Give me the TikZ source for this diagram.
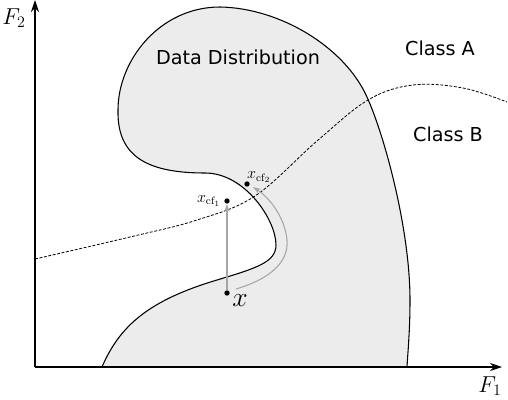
\documentclass[tikz,border=0pt]{standalone}
\usepackage{fontspec}
\setsansfont{DejaVu Sans}
\usepackage{amsmath}
\usetikzlibrary{arrows.meta,positioning}
\tikzset{%
  axis/.style={line width=0.8pt, -{Stealth[length=9pt,width=6pt]}},% feature axes
  blob/.style={draw, line width=0.8pt, fill=gray!15},% data distribution
  boundary/.style={line width=0.6pt, dash pattern=on 2.2pt off 1.2pt},% decision boundary
  cfpath/.style={draw=gray!70, line width=0.8pt, -{Stealth[length=6pt,width=4pt]}},% path to counterfactual
  point/.style={circle, fill=black, inner sep=0pt, minimum size=4pt},% sample
  classlabel/.style={font=\Large\sffamily}% region text
}
\begin{document}
\begin{tikzpicture}[x=0.75pt,y=-0.75pt]
\useasboundingbox (0,0) rectangle (508,400);

% data distribution
\path[blob] (102,367) .. controls (120,325) and (150,300) .. (217,280)
  .. controls (257,268) and (276,262) .. (276,245)
  .. controls (276,220) and (245,173) .. (205,173)
  .. controls (145,173) and (117,155) .. (118,110)
  .. controls (118,60) and (160,7) .. (220,7)
  .. controls (280,8) and (344.5,47) .. (367,97)
  .. controls (385,137) and (410,230) .. (410,300)
  .. controls (410,330) and (408,350) .. (407,367) -- cycle;

% axes
\coordinate (origin) at (35,367);
\coordinate (xend) at (502,367);
\coordinate (yend) at (35,0);
\draw[axis] (origin) -- (xend);
\draw[axis] (origin) -- (yend);
\node (f1) at (490,386) {\LARGE $F_1$};
\node (f2) at (14,18) {\LARGE $F_2$};

% decision boundary
\draw[boundary] plot[smooth, tension=0.6] coordinates {(35,259) (130,237) (197,220)
  (255,196) (317,141) (368,100) (413,85) (463,88) (507,102)};

\node[classlabel] (dist) at (238,57) {Data Distribution};
\node[classlabel] (classa) at (440,48) {Class A};
\node[classlabel] (classb) at (448,134) {Class B};

% sample and counterfactuals
\node[point] (x) at (227,293) {};
\node[point] (cf1) at (227,201) {};
\node[point] (cf2) at (247,184) {};
\node[below right=-4pt and -1pt of x] (xlbl) {\huge $x$};
\node[left=-1pt of cf1] (cf1lbl) {\large $x_{\mathrm{cf}_1}$};
\node[above right=-4pt and -5pt of cf2] (cf2lbl) {\large $x_{\mathrm{cf}_2}$};
\coordinate (xstart) at (236,289);
\coordinate (cf2tip) at (253,187);

\draw[cfpath] (x) -- (cf1);
\draw[cfpath] (xstart) .. controls (270,279) and (289,262) .. (287,240)
  .. controls (285,218) and (270,198) .. (cf2tip);

\end{tikzpicture}
\end{document}
